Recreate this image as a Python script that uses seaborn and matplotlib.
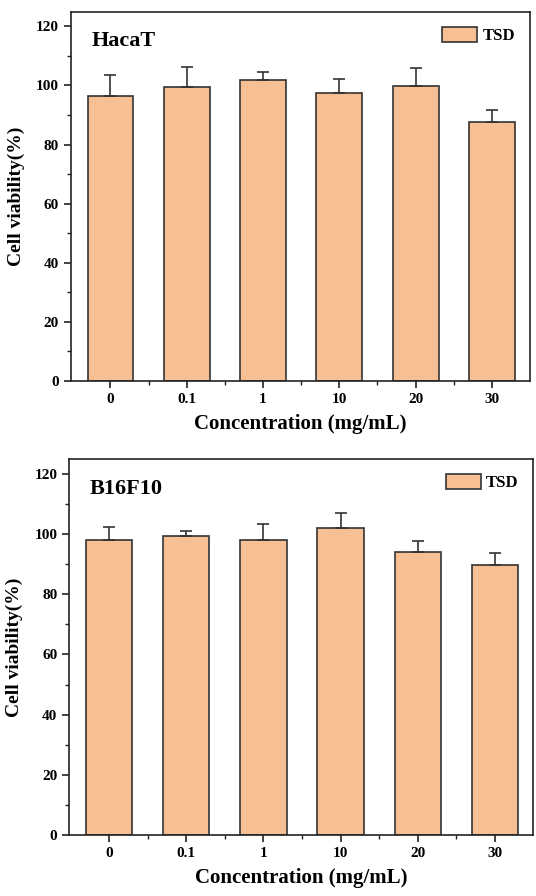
import matplotlib
matplotlib.use("Agg")
import matplotlib.pyplot as plt
import seaborn as sns
import pandas as pd
import numpy as np
from matplotlib.ticker import MultipleLocator
from matplotlib.patches import Patch

sns.set_theme(style="ticks")
plt.rcParams['font.family'] = ['Liberation Serif', 'DejaVu Serif']
plt.rcParams['font.weight'] = 'bold'
plt.rcParams['text.color'] = 'black'
plt.rcParams['axes.labelcolor'] = 'black'
plt.rcParams['xtick.color'] = 'black'
plt.rcParams['ytick.color'] = 'black'

concentrations = ["0", "0.1", "1", "10", "20", "30"]
hacat_mean = [96.6, 99.4, 101.9, 97.5, 99.8, 87.8]
hacat_sd = [7.0, 7.0, 2.7, 4.8, 6.2, 3.8]
b16_mean = [98.0, 99.3, 98.0, 102.0, 93.9, 89.6]
b16_sd = [4.4, 1.6, 5.2, 5.0, 3.8, 4.0]

bar_color = "#F7BF94"
edge_color = "#333333"

fig = plt.figure(figsize=(5.36, 8.96), dpi=100)
ax1 = fig.add_axes([0.132, 0.575, 0.857, 0.412])
ax2 = fig.add_axes([0.129, 0.068, 0.866, 0.420])

def draw(ax, means, sds, title):
    df = pd.DataFrame({"conc": concentrations, "val": means})
    sns.barplot(data=df, x="conc", y="val", ax=ax, color=bar_color,
                edgecolor=edge_color, linewidth=1.2, width=0.6,
                saturation=1, errorbar=None)
    xs = np.arange(len(concentrations))
    ax.errorbar(xs, means, yerr=[np.zeros(len(sds)), sds], fmt="none",
                ecolor=edge_color, elinewidth=1.2, capsize=4, capthick=1.2, zorder=1)
    ax.set_xlim(-0.52, 5.5)
    ax.set_ylim(0, 125)
    ax.yaxis.set_major_locator(MultipleLocator(20))
    ax.yaxis.set_minor_locator(MultipleLocator(10))
    ax.set_xticks(xs)
    ax.set_xticks(xs[:-1] + 0.5, minor=True)
    ax.tick_params(axis="both", which="major", direction="out", length=5, width=1.2,
                   labelsize=11, color="#222222", labelcolor="black")
    ax.tick_params(axis="both", which="minor", direction="out", length=3, width=1.0,
                   color="#222222")
    for lab in ax.get_xticklabels() + ax.get_yticklabels():
        lab.set_fontweight("bold")
    for s in ax.spines.values():
        s.set_visible(True)
        s.set_linewidth(1.2)
        s.set_color("#222222")
    ax.set_xlabel("Concentration (mg/mL)", fontsize=15, fontweight="bold", labelpad=6)
    ax.set_ylabel("Cell viability(%)", fontsize=14, fontweight="bold", labelpad=8)
    ax.text(0.045, 0.92, title, transform=ax.transAxes, fontsize=16,
            fontweight="bold", va="center", ha="left", color="black")
    handle = Patch(facecolor=bar_color, edgecolor=edge_color, linewidth=1.2)
    ax.legend([handle], ["TSD"], loc="upper right", frameon=False,
              prop={"weight": "bold", "size": 12}, handlelength=2.1,
              handleheight=1.05, handletextpad=0.3, borderaxespad=0.5)

draw(ax1, hacat_mean, hacat_sd, "HacaT")
draw(ax2, b16_mean, b16_sd, "B16F10")

fig.savefig("out.png", dpi=100)
